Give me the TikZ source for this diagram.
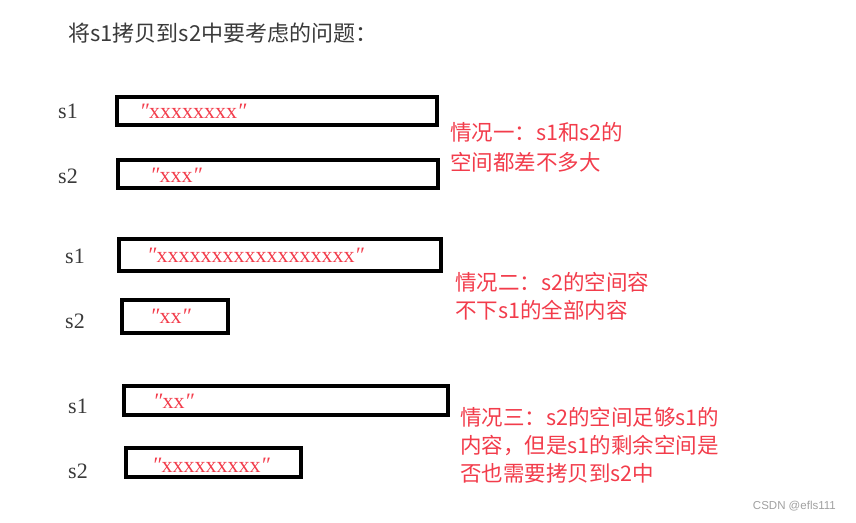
\documentclass[tikz,border=0pt]{standalone}
\usepackage{fontspec}
\setmainfont{Liberation Serif}
\newfontfamily\cjkfont{Noto Sans CJK SC}
\newfontfamily\markfont{Liberation Sans}
\usepackage{xcolor}
\usetikzlibrary{positioning}
\definecolor{notered}{HTML}{F23C4B}
\definecolor{labelgray}{HTML}{3A3A3A}
\definecolor{markgray}{HTML}{A0A0A0}
\newcommand{\qm}{\textit{″}}

\begin{document}
\begin{tikzpicture}[
    x=1pt, y=-1pt,
    strbox/.style={draw=black, line width=4pt, minimum height=28pt, inner sep=0pt, anchor=west},
    varname/.style={font=\fontsize{22}{26}\selectfont, text=labelgray, inner sep=0pt, anchor=base west},
    chars/.style={font=\fontsize{22}{26}\selectfont, text=notered, inner sep=0pt, anchor=base west},
    note/.style={font=\cjkfont\fontsize{21.5}{28}\selectfont, text=notered, inner sep=0pt, anchor=west, align=left}
]
\useasboundingbox (0,0) rectangle (856,522);

% title
\node[font=\cjkfont\fontsize{22}{26}\selectfont, text=labelgray, inner sep=0pt, anchor=west] (title) at (68,33) {将s1拷贝到s2中要考虑的问题：};

% case one
\node[strbox, minimum width=320pt] (boxa1) at (114.5,111) {};
\node[strbox, minimum width=320pt] (boxa2) at (116,174) {};
\node[varname] (vara1) at (58,118.5) {s1};
\node[varname] (vara2) at (58,183) {s2};
\node[chars] (stra1) at ([xshift=25pt, yshift=-7pt]boxa1.west) {\qm xxxxxxxx\qm};
\node[chars] (stra2) at ([xshift=34pt, yshift=-8pt]boxa2.west) {\qm xxx\qm};
\node[note, font=\cjkfont\fontsize{21.5}{30}\selectfont] (notea) at (450,147) {情况一：s1和s2的\\空间都差不多大};

% case two
\node[strbox, minimum width=322pt, minimum height=32pt] (boxb1) at (117,255) {};
\node[strbox, minimum width=106pt, minimum height=33pt] (boxb2) at (120,316.5) {};
\node[varname] (varb1) at (65,263) {s1};
\node[varname] (varb2) at (65,328) {s2};
\node[chars] (strb1) at ([xshift=30pt, yshift=-7pt]boxb1.west) {\qm xxxxxxxxxxxxxxxxxx\qm};
\node[chars] (strb2) at ([xshift=30pt, yshift=-6.5pt]boxb2.west) {\qm xx\qm};
\node[note] (noteb) at (455,296) {情况二：s2的空间容\\不下s1的全部内容};

% case three
\node[strbox, minimum width=324pt, minimum height=29pt] (boxc1) at (122,400.5) {};
\node[strbox, minimum width=175pt, minimum height=29pt] (boxc2) at (124,462.5) {};
\node[varname] (varc1) at (68,413) {s1};
\node[varname] (varc2) at (68,478) {s2};
\node[chars] (strc1) at ([xshift=31pt, yshift=-7.5pt]boxc1.west) {\qm xx\qm};
\node[chars] (strc2) at ([xshift=28pt, yshift=-9.5pt]boxc2.west) {\qm xxxxxxxxx\qm};
\node[note] (notec) at (460,445) {情况三：s2的空间足够s1的\\内容，但是s1的剩余空间是\\否也需要拷贝到s2中};

% watermark
\node[font=\markfont\fontsize{11.5}{14}\selectfont, text=markgray, inner sep=0pt, anchor=east] (mark) at (836,506) {CSDN @efls111};
\end{tikzpicture}
\end{document}
